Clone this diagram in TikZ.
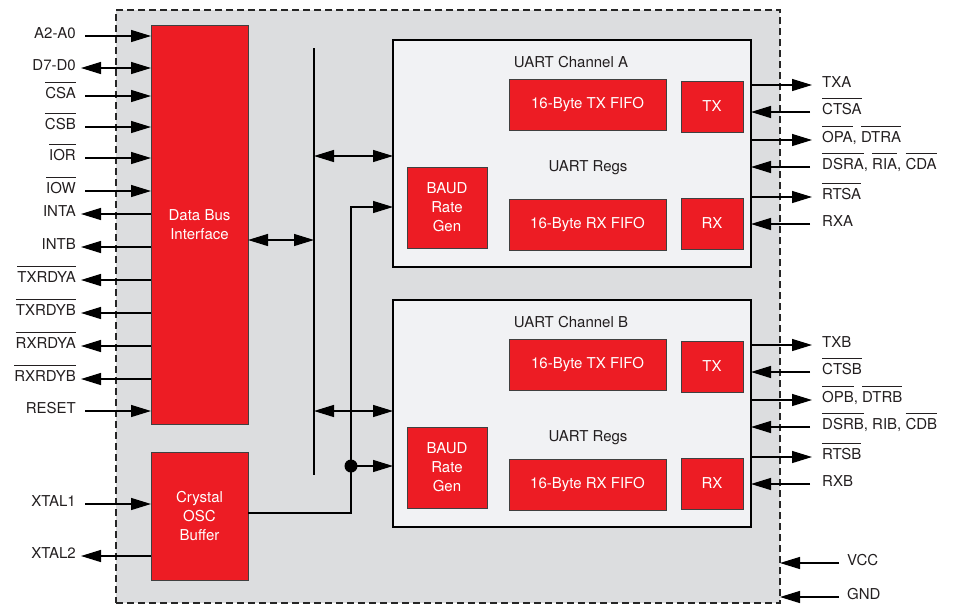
\documentclass[tikz,border=0pt]{standalone}
\usepackage{fontspec}
\setmainfont{TeX Gyre Heros}
\usetikzlibrary{arrows.meta}
\definecolor{chipred}{HTML}{ED1C24}
\definecolor{chipgray}{HTML}{DCDDDF}
\definecolor{chanfill}{HTML}{F1F2F4}
\definecolor{ink}{HTML}{231F20}
\newcommand\nb[1]{\setbox0\hbox{#1}\rlap{\rule[15.5pt]{\wd0}{1pt}}\box0}

\begin{document}
\begin{tikzpicture}[x=1pt,y=-1pt,
  font=\fontsize{15pt}{19pt}\selectfont, text=ink,
  >={Triangle[length=20pt,width=12pt]},
  redbox/.style={draw=black!75, line width=1pt, fill=chipred, text=white, align=center,
    inner sep=0pt, outer sep=0pt, anchor=north west},
  chanbox/.style={draw=black, line width=2.2pt, fill=chanfill, inner sep=0pt, outer sep=0pt,
    anchor=north west},
  pinl/.style={anchor=mid east, inner sep=0pt},
  pinr/.style={anchor=mid west, inner sep=0pt},
  wire/.style={line width=1.3pt, draw=black}]
\useasboundingbox (0,0) rectangle (954,606);
% chip outline
\node[draw=black!85, dash pattern=on 7pt off 4pt, line width=1.5pt, fill=chipgray,
  minimum width=664pt, minimum height=593pt, anchor=north west, inner sep=0pt, outer sep=0pt]
  (chip) at (116,10) {};
\node[redbox, minimum width=97pt, minimum height=399pt] (dbi) at (151,25) {Data Bus\\Interface};
\node[redbox, minimum width=97pt, minimum height=128pt] (osc) at (151,452) {Crystal\\OSC\\Buffer};
% the two channels
\foreach \c/\o/\r in {A/0/168, B/260/438} {
  \node[chanbox, minimum width=358pt, minimum height=227pt] (ch\c) at (393,40+\o) {};
  \node (title\c) at (571,62+\o) {UART Channel \c};
  \node (regs\c) at (588,\r) {UART Regs};
  \node[redbox, minimum width=157pt, minimum height=51pt] (txf\c) at (509,79+\o) {16-Byte TX FIFO};
  \node[redbox, minimum width=62pt, minimum height=51pt] (tx\c) at (681,81+\o) {TX};
  \node[redbox, minimum width=80pt, minimum height=81pt] (baud\c) at (407,167+\o) {BAUD\\Rate\\Gen};
  \node[redbox, minimum width=157pt, minimum height=51pt] (rxf\c) at (509,199+\o) {16-Byte RX FIFO};
  \node[redbox, minimum width=62pt, minimum height=51pt] (rx\c) at (681,198+\o) {RX};
}
% left pins
\foreach \y/\t/\n in {36/A2-A0/pa, 96/\nb{CSA}/pcsa, 127/\nb{CSB}/pcsb, 158/\nb{IOR}/pior,
    191/\nb{IOW}/piow, 411/RESET/preset} {
  \node[pinl] (\n) at (76,\y) {\t};
  \draw[wire,->] ([xshift=9pt]\n.mid east) -- (dbi.west |- \n.mid east);
}
\foreach \y/\t/\n in {214/INTA/pinta, 247/INTB/pintb, 280/\nb{TXRDYA}/ptxrdya,
    313/\nb{TXRDYB}/ptxrdyb, 346/\nb{RXRDYA}/prxrdya, 379/\nb{RXRDYB}/prxrdyb} {
  \node[pinl] (\n) at (76,\y) {\t};
  \draw[wire,->] (dbi.west |- \n.mid east) -- ([xshift=5pt]\n.mid east);
}
\node[pinl] (pd) at (76,68) {D7-D0};
\draw[wire,<->] ([xshift=5pt]pd.mid east) -- (dbi.west |- pd.mid east);
\node[pinl] (pxtal1) at (76,504) {XTAL1};
\draw[wire,->] ([xshift=9pt]pxtal1.mid east) -- (osc.west |- pxtal1.mid east);
\node[pinl] (pxtal2) at (76,556) {XTAL2};
\draw[wire,->] (osc.west |- pxtal2.mid east) -- ([xshift=5pt]pxtal2.mid east);
% right pins
\foreach \c/\y/\t/\n in {A/85/TXA/ptxa, A/140/{\nb{OPA}, \nb{DTRA}}/popa, A/197/\nb{RTSA}/prtsa,
    B/345/TXB/ptxb, B/400/{\nb{OPB}, \nb{DTRB}}/popb, B/457/\nb{RTSB}/prtsb} {
  \node[pinr] (\n) at (822,\y) {\t};
  \draw[wire,->] (ch\c.east |- \n.mid west) -- ([xshift=-10pt]\n.mid west);
}
\foreach \c/\y/\t/\n in {A/112/\nb{CTSA}/pctsa, A/167/{\nb{DSRA}, \nb{RIA}, \nb{CDA}}/pdsra,
    A/224/RXA/prxa, B/372/\nb{CTSB}/pctsb, B/427/{\nb{DSRB}, RIB, \nb{CDB}}/pdsrb,
    B/484/RXB/prxb} {
  \node[pinr] (\n) at (822,\y) {\t};
  \draw[wire,->] ([xshift=-12pt]\n.mid west) -- (ch\c.east |- \n.mid west);
}
\foreach \y/\t/\n in {563/VCC/pvcc, 597/GND/pgnd} {
  \node[pinr] (\n) at (847,\y) {\t};
  \draw[wire,->] ([xshift=-8pt]\n.mid west) -- (chip.east |- \n.mid west);
}
% internal bus and clock
\coordinate (bustop) at (314,48);
\coordinate (busbot) at (314,475);
\draw[wire] (bustop) -- (busbot);
\draw[wire,<->] (dbi.east |- 0,240) -- (bustop |- 0,240);
\draw[wire,<->] (bustop |- 0,156) -- (chA.west |- 0,156);
\draw[wire,<->] (bustop |- 0,411) -- (chB.west |- 0,411);
\coordinate (clk) at (351,466);
\draw[wire,->] (osc.east |- 0,513) -| (clk) -- (351,207) -- (chA.west |- 0,207);
\fill (clk) circle (6.5pt);
\draw[wire,->] (clk) -- (chB.west |- clk);
\end{tikzpicture}
\end{document}
